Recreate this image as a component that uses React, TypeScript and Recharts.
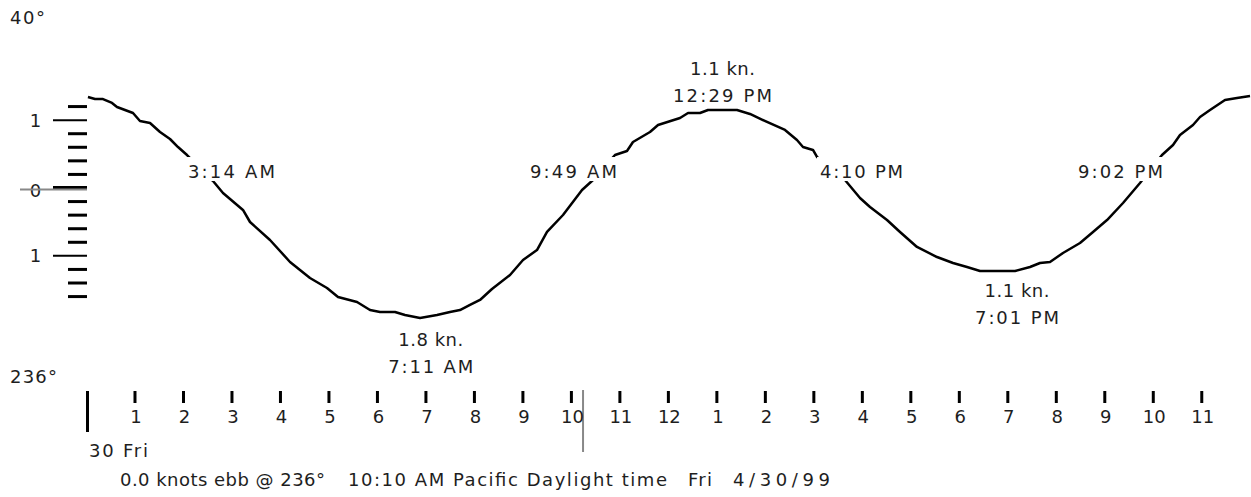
import React from 'react';
import { LineChart, Line, XAxis, YAxis, ReferenceDot, ReferenceLine } from 'recharts';

// ---- data (hours after midnight, knots: + flood, - ebb) ----
const hours = [0.03, 0.175, 0.34, 0.526, 0.629, 0.959, 1.103, 1.31, 1.516, 1.722, 1.887, 2.073, 2.341, 2.609, 2.815, 3.227, 3.372, 3.784, 4.197, 4.403, 4.609, 4.96, 5.187, 5.579, 5.847, 6.053, 6.362, 6.568, 6.878, 7.228, 7.496, 7.702, 7.909, 8.115, 8.362, 8.734, 9.002, 9.29, 9.497, 9.827, 10.219, 10.446, 10.673, 10.899, 11.146, 11.27, 11.621, 11.786, 12.24, 12.405, 12.652, 12.817, 13.415, 13.683, 14.034, 14.405, 14.652, 14.776, 14.982, 15.065, 15.354, 15.642, 15.952, 16.158, 16.509, 16.777, 17.127, 17.54, 17.87, 18.159, 18.427, 19.149, 19.458, 19.664, 19.87, 20.138, 20.489, 20.757, 21.046, 21.376, 21.726, 21.953, 22.18, 22.407, 22.551, 22.819, 22.964, 23.17, 23.479, 23.727, 23.995];
const knots = [1.341, 1.311, 1.311, 1.253, 1.194, 1.105, 0.987, 0.958, 0.825, 0.722, 0.604, 0.486, 0.295, 0.103, -0.074, -0.324, -0.501, -0.766, -1.09, -1.208, -1.326, -1.474, -1.606, -1.68, -1.798, -1.827, -1.827, -1.872, -1.916, -1.872, -1.827, -1.798, -1.724, -1.65, -1.488, -1.282, -1.061, -0.914, -0.648, -0.398, -0.029, 0.118, 0.309, 0.486, 0.545, 0.678, 0.825, 0.928, 1.032, 1.105, 1.105, 1.149, 1.149, 1.091, 0.973, 0.855, 0.707, 0.604, 0.56, 0.457, 0.295, 0.118, -0.147, -0.28, -0.472, -0.648, -0.869, -1.017, -1.105, -1.164, -1.223, -1.223, -1.164, -1.105, -1.091, -0.958, -0.81, -0.648, -0.472, -0.221, 0.074, 0.28, 0.486, 0.634, 0.781, 0.928, 1.046, 1.149, 1.297, 1.326, 1.356];

const hourTicks = [0, 1, 2, 3, 4, 5, 6, 7, 8, 9, 10, 11, 12, 13, 14, 15, 16, 17, 18, 19, 20, 21, 22, 23];
const hourLabels = ['', '1', '2', '3', '4', '5', '6', '7', '8', '9', '10', '11', '12', '1', '2', '3', '4', '5', '6', '7', '8', '9', '10', '11'];
const speedTicks = [-1.6, -1.4, -1.2, -1, -0.8, -0.6, -0.4, -0.2, 0, 0.2, 0.4, 0.6, 0.8, 1, 1.2];

const slackTimes = ['3:14 AM', '9:49 AM', '4:10 PM', '9:02 PM'];
const peakSpeeds = ['1.8 kn.', '1.1 kn.', '1.1 kn.'];
const peakTimes = ['7:11 AM', '12:29 PM', '7:01 PM'];
const nowHour = 10.24;
const dayLabel = '30 Fri';
const floodDir = '40°';
const ebbDir = '236°';
const statusParts = ['0.0 knots ebb @ 236°', '10:10 AM Pacific Daylight time', 'Fri', '4/30/99'];

// ---- layout ----
const W = 1251;
const H = 497;
const FONT = '"DejaVu Sans", Verdana, sans-serif';
const FS = 18;
const TXT = '#1e1e1e';
const slackLayout = [
  { t: 2.99, v: 0.147, w: 87 },
  { t: 10.043, v: 0.147, w: 87 },
  { t: 15.983, v: 0.147, w: 83 },
  { t: 21.324, v: 0.147, w: 85 },
];
const peakLayout = [
  { t: 7.1, v: -2.328, w1: 65, w2: 85 },
  { t: 13.116, v: 1.665, w1: 65, w2: 99 },
  { t: 19.19, v: -1.606, w1: 65, w2: 84 },
];
const statusLayout = [
  { x: 120, w: 205 },
  { x: 348, w: 319 },
  { x: 688, w: 24 },
  { x: 733, w: 97 },
];

const data = hours.map((t, i) => ({ t, v: knots[i] }));

const txtProps = { fontFamily: FONT, fontSize: FS, fill: TXT } as const;

const XTick = (props: any) => {
  const { x, y, payload } = props;
  const h = payload.value as number;
  const top = y + 33.35;
  if (h === 0) {
    return (
      <g>
        <line x1={x + 1} x2={x + 1} y1={top} y2={top + 41} stroke="#000" strokeWidth={3} />
        <text x={x + 2.5} y={y + 99.35} textLength={59} lengthAdjust="spacing" {...txtProps}>
          {dayLabel}
        </text>
      </g>
    );
  }
  return (
    <g>
      <line x1={x} x2={x} y1={top} y2={top + 12} stroke="#000" strokeWidth={3} />
      <text x={x + 1} y={y + 65.35} textAnchor="middle" {...txtProps}>
        {hourLabels[h]}
      </text>
    </g>
  );
};

const YTick = (props: any) => {
  const { x, y, payload } = props;
  const k = Math.round((payload.value as number) * 10);
  const right = x + 0.5;
  if (k === 0) {
    return (
      <g>
        <text x={right - 51.5} y={y + 8.5} textAnchor="middle" {...txtProps}>0</text>
        <line x1={right - 34} x2={right} y1={y - 0.5} y2={y - 0.5} stroke="#000" strokeWidth={3} />
        <line x1={right - 67} x2={right} y1={y + 1.5} y2={y + 1.5} stroke="#888" strokeWidth={2} />
      </g>
    );
  }
  if (k === 10 || k === -10) {
    return (
      <g>
        <text x={right - 51.5} y={y + 6.5} textAnchor="middle" {...txtProps}>1</text>
        <line x1={right - 34} x2={right} y1={y} y2={y} stroke="#000" strokeWidth={2} />
      </g>
    );
  }
  return <line x1={right - 19} x2={right} y1={y} y2={y} stroke="#000" strokeWidth={3} />;
};

const slackShape = (label: string, w: number) => (p: any) => (
  <g>
    <rect x={p.cx - w / 2 - 3} y={p.cy - 21} width={w + 6} height={24} fill="#fff" />
    <text x={p.cx} y={p.cy} textAnchor="middle" textLength={w} lengthAdjust="spacing" {...txtProps}>
      {label}
    </text>
  </g>
);

const peakShape = (speed: string, time: string, w1: number, w2: number) => (p: any) => (
  <g>
    <text x={p.cx} y={p.cy} textAnchor="middle" textLength={w1} lengthAdjust="spacing" {...txtProps}>
      {speed}
    </text>
    <text x={p.cx} y={p.cy + 27} textAnchor="middle" textLength={w2} lengthAdjust="spacing" {...txtProps}>
      {time}
    </text>
  </g>
);

export default function App() {
  return (
    <div style={{ position: 'absolute', left: 0, top: 0, width: W, height: H, background: '#fff' }}>
      <LineChart
        width={W}
        height={H}
        data={data}
        margin={{ top: 18.35, right: 0.74, bottom: 0, left: 0 }}
      >
        <XAxis
          dataKey="t"
          type="number"
          domain={[0, 24]}
          ticks={hourTicks}
          interval={0}
          height={139.35}
          axisLine={false}
          tickLine={false}
          tickSize={0}
          tickMargin={0}
          tick={XTick}
        />
        <YAxis
          type="number"
          domain={[-2.5, 2.5]}
          ticks={speedTicks}
          interval={0}
          width={86.5}
          axisLine={false}
          tickLine={false}
          tickSize={0}
          tickMargin={0}
          tick={YTick}
        />
        <Line
          dataKey="v"
          type="linear"
          stroke="#000"
          strokeWidth={2.5}
          strokeLinejoin="round"
          dot={false}
          activeDot={false}
          isAnimationActive={false}
        />
        <ReferenceLine
          segment={[{ x: nowHour, y: -2.977 }, { x: nowHour, y: -3.89 }]}
          stroke="#888"
          strokeWidth={2}
          ifOverflow="visible"
        />
        {slackTimes.map((s, i) => (
          <ReferenceDot
            key={'s' + i}
            x={slackLayout[i].t}
            y={slackLayout[i].v}
            r={0}
            ifOverflow="visible"
            shape={slackShape(s, slackLayout[i].w)}
          />
        ))}
        {peakSpeeds.map((s, i) => (
          <ReferenceDot
            key={'p' + i}
            x={peakLayout[i].t}
            y={peakLayout[i].v}
            r={0}
            ifOverflow="visible"
            shape={peakShape(s, peakTimes[i], peakLayout[i].w1, peakLayout[i].w2)}
          />
        ))}
      </LineChart>
      <svg
        width={W}
        height={H}
        style={{ position: 'absolute', left: 0, top: 0, pointerEvents: 'none' }}
      >
        <text x={10} y={24} textLength={35} lengthAdjust="spacing" {...txtProps}>{floodDir}</text>
        <text x={10} y={383} textLength={47} lengthAdjust="spacing" {...txtProps}>{ebbDir}</text>
        {statusParts.map((s, i) => (
          <text
            key={i}
            x={statusLayout[i].x}
            y={486}
            textLength={statusLayout[i].w}
            lengthAdjust="spacing"
            {...txtProps}
          >
            {s}
          </text>
        ))}
      </svg>
    </div>
  );
}
